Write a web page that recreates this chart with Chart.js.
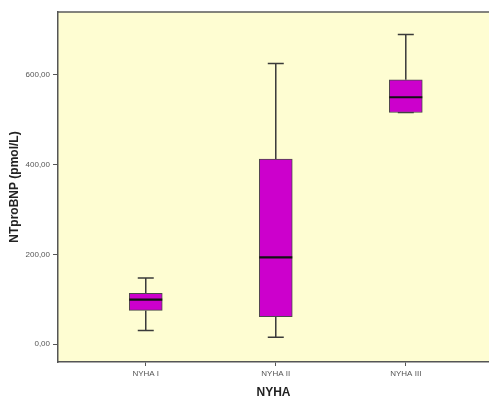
<!DOCTYPE html>
<html>
<head>
<meta charset="utf-8">
<script src="https://cdn.jsdelivr.net/npm/chart.js@4"></script>
<style>
  html, body { margin: 0; padding: 0; background: #fff; }
  #wrap { width: 489px; height: 400px; }
</style>
</head>
<body>
<div id="wrap"><canvas id="chart"></canvas></div>
<script>
const categories = ['NYHA I', 'NYHA II', 'NYHA III'];
const whiskerLow = [30, 15, 516];
const q1 = [75, 61, 516];
const median = [99, 193, 550];
const q3 = [113, 412, 589];
const whiskerHigh = [147, 625, 690];
const yTicks = [0, 200, 400, 600];

// boxes are floating bars, whiskers + medians drawn with the scales
const boxData = categories.map((c, i) => ({ x: i + 1, y: [q1[i], q3[i]] }));

const boxPlugin = {
    id: 'boxParts',
    beforeDraw(chart) {
        const { ctx, chartArea: a } = chart;
        ctx.save();
        ctx.fillStyle = '#FEFDD2';
        ctx.fillRect(a.left, a.top, a.right - a.left, a.bottom - a.top);
        ctx.strokeStyle = '#5a5a5a';
        ctx.lineWidth = 1.5;
        ctx.beginPath();
        ctx.moveTo(a.right + 2, a.top);
        ctx.lineTo(a.left, a.top);
        ctx.stroke();
        ctx.restore();
    },
    beforeDatasetsDraw(chart) {
        const { ctx, scales: { x, y } } = chart;
        ctx.save();
        ctx.strokeStyle = '#3a3a3a';
        ctx.lineWidth = 1.5;
        categories.forEach((c, i) => {
            const px = x.getPixelForValue(i + 1);
            const lo = y.getPixelForValue(whiskerLow[i]);
            const hi = y.getPixelForValue(whiskerHigh[i]);
            ctx.beginPath();
            ctx.moveTo(px, y.getPixelForValue(q3[i]));
            ctx.lineTo(px, hi);
            ctx.moveTo(px - 8, hi);
            ctx.lineTo(px + 8, hi);
            ctx.moveTo(px, y.getPixelForValue(q1[i]));
            ctx.lineTo(px, lo);
            ctx.moveTo(px - 8, lo);
            ctx.lineTo(px + 8, lo);
            ctx.stroke();
        });
        ctx.restore();
    },
    afterDatasetsDraw(chart) {
        const { ctx, scales: { y } } = chart;
        const meta = chart.getDatasetMeta(0);
        ctx.save();
        ctx.strokeStyle = '#111';
        ctx.lineWidth = 2.2;
        meta.data.forEach((bar, i) => {
            const half = bar.width / 2;
            const py = y.getPixelForValue(median[i]);
            ctx.beginPath();
            ctx.moveTo(bar.x - half, py);
            ctx.lineTo(bar.x + half, py);
            ctx.stroke();
        });
        ctx.restore();
    }
};

new Chart(document.getElementById('chart'), {
    type: 'bar',
    data: {
        datasets: [{
            data: boxData,
            backgroundColor: '#CC00CC',
            borderColor: '#4a4a4a',
            borderWidth: 1,
            borderSkipped: false,
            barThickness: 33
        }]
    },
    options: {
        responsive: true,
        maintainAspectRatio: false,
        animation: false,
        layout: { padding: { top: 12, right: 0, left: 0, bottom: 0 } },
        plugins: {
            legend: { display: false },
            tooltip: { enabled: false }
        },
        scales: {
            x: {
                type: 'linear',
                offset: false,
                min: 0.325,
                max: 3.64,
                afterBuildTicks: (s) => { s.ticks = categories.map((c, i) => ({ value: i + 1 })); },
                afterFit: (s) => { s.height = 38; },
                ticks: {
                    callback: (v) => categories[v - 1],
                    font: { family: 'Liberation Sans', size: 8 },
                    color: '#555',
                    padding: 3,
                    maxRotation: 0
                },
                grid: { offset: false, drawOnChartArea: false, tickLength: 4, color: '#555' },
                border: { color: '#555', width: 1.5 },
                title: {
                    display: true,
                    text: 'NYHA',
                    font: { family: 'Liberation Sans', size: 12, weight: 'bold' },
                    color: '#222',
                    padding: { top: 3, bottom: 0 }
                }
            },
            y: {
                min: -40,
                max: 740,
                afterBuildTicks: (s) => { s.ticks = yTicks.map(v => ({ value: v })); },
                afterFit: (s) => { s.width = 58; },
                ticks: {
                    callback: (v) => v.toFixed(2).replace('.', ','),
                    font: { family: 'Liberation Sans', size: 8 },
                    color: '#555',
                    padding: 3
                },
                grid: { drawOnChartArea: false, tickLength: 5, color: '#555' },
                border: { color: '#555', width: 1.5 },
                title: {
                    display: true,
                    text: 'NTproBNP (pmol/L)',
                    font: { family: 'Liberation Sans', size: 12, weight: 'bold' },
                    color: '#222',
                    padding: { top: 7, bottom: 0 }
                }
            }
        }
    },
    plugins: [boxPlugin]
});
</script>
</body>
</html>
